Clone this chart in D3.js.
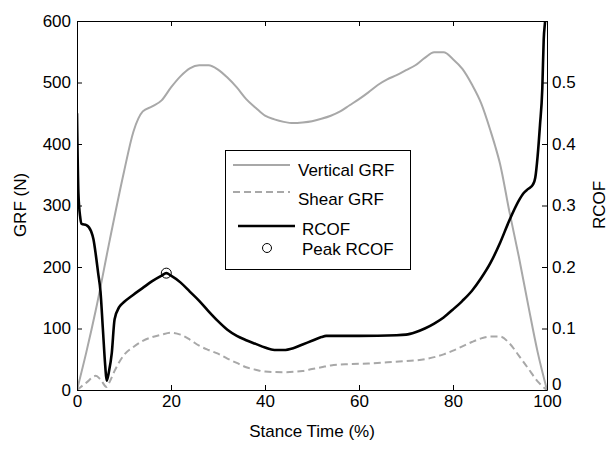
<!DOCTYPE html>
<html><head><meta charset="utf-8">
<script src="https://cdn.jsdelivr.net/npm/d3@7"></script>
<style>
body{margin:0;background:#fff;}
text{font-family:"Liberation Sans",Arial,sans-serif;}
</style></head>
<body>
<svg id="c" width="609" height="453"></svg>
<script>
const vertPct = [0,2,4,7,10,12,14,16,18,20,22,24,26,28,30,32,34,36,38,40,42,44,46,48,50,52,54,56,58,60,62,64,66,68,70,72,74,76,78,80,82,84,86,88,89,90,92,94,96,98,100];
const vertN   = [0,62,130,245,355,420,453,461,471,492,510,523,528,528,521,508,492,473,459,446,440,436,434,435,437,441,446,453,463,473,484,496,505,512,520,528,540,549,549,538,522,497,466,421,396,368,290,217,138,62,0];

const shearPct = [0,2,4,5,6.3,7,8,10,12,14,16,18,20,22,24,26,28,30,32,34,36,38,40,44,48,50,52,54,58,62,66,70,74,78,80,82,84,86,88,90,92,94,96,98,100];
const shearN   = [0,12,23,17,5,14,31,57,70,80,86,90,93,90,82,72,65,59,51,44,37,33,30,29,31,34,37,40,42,43,45,47,50,58,64,71,78,84,87,87,76,56,35,14,0];

const rcofPct = [0,0.3,0.7,1,2,3,3.5,4,4.5,5,5.5,6,6.3,6.8,7.4,8,9,10,12,14,16,18,19,20,22,24,26,28,30,32,34,36,38,40,42,44,46,48,50,52,53,60,68,70,72,74,76,78,80,82,84,86,88,90,92,94,95,96,97,97.5,98,98.5,99,99.3,99.6,100];
const rcofVal = [0.45,0.32,0.28,0.27,0.268,0.258,0.245,0.22,0.19,0.16,0.10,0.04,0.015,0.03,0.06,0.115,0.135,0.143,0.155,0.166,0.177,0.186,0.19,0.186,0.175,0.16,0.145,0.128,0.112,0.098,0.088,0.081,0.075,0.069,0.065,0.065,0.068,0.074,0.08,0.086,0.088,0.088,0.089,0.09,0.094,0.1,0.108,0.118,0.131,0.145,0.161,0.182,0.207,0.239,0.276,0.308,0.32,0.327,0.334,0.345,0.38,0.43,0.49,0.57,0.6,0.65];

const peakPct = [19];
const peakVal = [0.19];

const xTicks = [0,20,40,60,80,100];
const yLTicks = [0,100,200,300,400,500,600];
const yRTicks = [0,0.1,0.2,0.3,0.4,0.5];
const yRLabels = ["0","0.1","0.2","0.3","0.4","0.5"];

const legendLabels = ["Vertical GRF","Shear GRF","RCOF","Peak RCOF"];

const L=77,R=547,T=21,B=390;
const x = d3.scaleLinear([0,100],[L,R]);
const yL = d3.scaleLinear([0,600],[B,T]);
const yR = d3.scaleLinear([0,0.6],[B,T]);

const svg = d3.select("#c");
svg.append("rect").attr("width",609).attr("height",453).attr("fill","#fff");
svg.append("defs").append("clipPath").attr("id","clip")
  .append("rect").attr("x",L).attr("y",T).attr("width",R-L).attr("height",B-T);

const g = svg.append("g").attr("clip-path","url(#clip)");
const grey = "#a8a8a8";

const lineL = d3.line().x(d=>x(d[0])).y(d=>yL(d[1])).curve(d3.curveMonotoneX);
const lineR = d3.line().x(d=>x(d[0])).y(d=>yR(d[1])).curve(d3.curveMonotoneX);

g.append("path").datum(vertPct.map((p,i)=>[p,vertN[i]])).attr("d",lineL)
 .attr("fill","none").attr("stroke",grey).attr("stroke-width",2);
g.append("path").datum(shearPct.map((p,i)=>[p,shearN[i]])).attr("d",lineL)
 .attr("fill","none").attr("stroke",grey).attr("stroke-width",2).attr("stroke-dasharray","7,4");
g.append("path").datum(rcofPct.map((p,i)=>[p,rcofVal[i]])).attr("d",lineR)
 .attr("fill","none").attr("stroke","#000").attr("stroke-width",2.6);
g.selectAll("circle.pk").data(peakPct.map((p,i)=>[p,peakVal[i]])).join("circle")
 .attr("cx",d=>x(d[0])).attr("cy",d=>yR(d[1])).attr("r",5)
 .attr("fill","none").attr("stroke","#000").attr("stroke-width",1);

const fs = 17;
function style(sel){
  sel.select(".domain").attr("stroke","#000").attr("stroke-width",1);
  sel.selectAll(".tick line").attr("stroke","#000");
  sel.selectAll("text").attr("font-size",fs).attr("fill","#000").attr("font-family","Liberation Sans, Arial, sans-serif");
}
svg.append("g").attr("transform",`translate(0,${B})`)
  .call(d3.axisBottom(x).tickValues(xTicks).tickSizeInner(-5).tickSizeOuter(0).tickPadding(5).tickFormat(d3.format("d")))
  .call(style);
svg.append("g").attr("transform",`translate(0,${T})`)
  .call(d3.axisTop(x).tickValues(xTicks).tickSizeInner(-5).tickSizeOuter(0).tickFormat(""))
  .call(style);
svg.append("g").attr("transform",`translate(${L},0)`)
  .call(d3.axisLeft(yL).tickValues(yLTicks).tickSizeInner(-5).tickSizeOuter(0).tickPadding(6).tickFormat(d3.format("d")))
  .call(style);
const rAx = svg.append("g").attr("transform",`translate(${R},0)`)
  .call(d3.axisRight(yR).tickValues(yRTicks).tickSizeInner(-5).tickSizeOuter(0).tickPadding(5).tickFormat((d,i)=>yRLabels[i]))
  .call(style);
rAx.selectAll(".tick text").filter(d=>d===0).attr("dy","-0.05em");

svg.append("text").attr("x",312).attr("y",437).attr("text-anchor","middle").attr("font-size",fs).text("Stance Time (%)");
svg.append("text").attr("transform","translate(26,205) rotate(-90)").attr("text-anchor","middle").attr("font-size",fs).text("GRF (N)");
svg.append("text").attr("transform","translate(605,205) rotate(-90)").attr("text-anchor","middle").attr("font-size",fs).text("RCOF");

// legend
const lg = svg.append("g");
lg.append("rect").attr("x",225.5).attr("y",150.5).attr("width",185).attr("height",119)
  .attr("fill","#fff").attr("stroke","#000").attr("stroke-width",1);
lg.append("line").attr("x1",233).attr("x2",290).attr("y1",165).attr("y2",165).attr("stroke",grey).attr("stroke-width",2);
lg.append("line").attr("x1",233).attr("x2",290).attr("y1",192).attr("y2",192).attr("stroke",grey).attr("stroke-width",2).attr("stroke-dasharray","7,4");
lg.append("line").attr("x1",238).attr("x2",295).attr("y1",226).attr("y2",226).attr("stroke","#000").attr("stroke-width",2.6);
lg.append("circle").attr("cx",267).attr("cy",248).attr("r",4.5).attr("fill","none").attr("stroke","#000");
const lgY = [170,199.5,229.5,249.5];
const lgX = [298,298,302,302];
lg.selectAll("text.l").data(legendLabels).join("text")
  .attr("x",(d,i)=>lgX[i]).attr("y",(d,i)=>lgY[i]).attr("dy","0.35em")
  .attr("font-size",fs).text(d=>d);
</script>
</body></html>
